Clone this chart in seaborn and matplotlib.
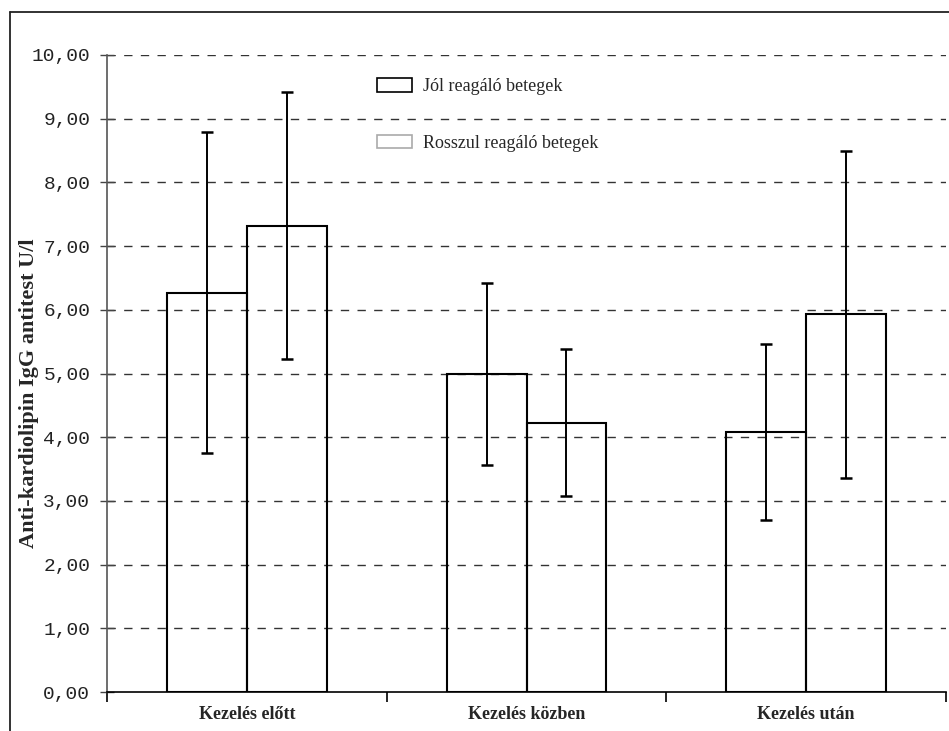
import matplotlib
matplotlib.use("Agg")
import matplotlib.pyplot as plt
from matplotlib.lines import Line2D
from matplotlib.patches import Rectangle
from matplotlib.ticker import FixedLocator, FuncFormatter
import seaborn as sns
import pandas as pd
import numpy as np

# Group means and standard deviations (U/l)
categories = ["Kezelés előtt", "Kezelés közben", "Kezelés után"]
groups = ["Jól reagáló betegek", "Rosszul reagáló betegek"]
good_mean = [6.27, 4.99, 4.08]
good_err = [2.52, 1.43, 1.38]
poor_mean = [7.32, 4.23, 5.93]
poor_err = [2.10, 1.15, 2.57]
y_ticks = [0, 1, 2, 3, 4, 5, 6, 7, 8, 9, 10]
y_label = "Anti-kardiolipin IgG antitest U/l"

df = pd.DataFrame({
    "kat": categories * 2,
    "csoport": [groups[0]] * 3 + [groups[1]] * 3,
    "ertek": good_mean + poor_mean,
})
errs = {groups[0]: good_err, groups[1]: poor_err}

sns.set_style("white")
plt.rcParams["font.family"] = ["DejaVu Sans"]

W, H, DPI = 949, 731, 100
fig = plt.figure(figsize=(W / DPI, H / DPI), dpi=DPI)
ax = fig.add_axes([107 / W, 1 - 692 / H, (946 - 107) / W, (692 - 55) / H])

sns.barplot(data=df, x="kat", y="ertek", hue="csoport", order=categories,
            hue_order=groups, palette=["black", "black"], fill=False,
            width=0.572, linewidth=1.5, errorbar=None, legend=False, ax=ax)

# error bars at the bar centres
for cont, g in zip(ax.containers, groups):
    for bar, e in zip(cont, errs[g]):
        xc = bar.get_x() + bar.get_width() / 2
        ax.errorbar(xc, bar.get_height(), yerr=e, fmt="none", ecolor="black",
                    elinewidth=1.4, capsize=4, capthick=1.8, zorder=4)

ax.set_xlim(-0.5, 2.5)
ax.set_ylim(0, 10)
ax.set_xlabel("")
ax.set_ylabel("")

for s in ["top", "right"]:
    ax.spines[s].set_visible(False)
for s in ["left", "bottom"]:
    ax.spines[s].set_color("black")
    ax.spines[s].set_linewidth(1.2)
ax.spines["left"].set_color("#555555")

# horizontal dashed grid
for v in y_ticks[1:]:
    ax.axhline(v, color="#333333", lw=1.0, ls=(0, (6, 6)), zorder=0.5)

ax.yaxis.set_major_locator(FixedLocator(y_ticks))
ax.yaxis.set_major_formatter(FuncFormatter(lambda v, p: f"{v:.2f}".replace(".", ",")))
ax.tick_params(axis="y", which="major", direction="inout", length=10, width=1.0,
               color="#444444", pad=7, labelsize=14, left=True)
for lab in ax.get_yticklabels():
    lab.set_family("Liberation Mono")
    lab.set_color("#222222")

ax.xaxis.set_major_locator(FixedLocator([-0.5, 0.5, 1.5, 2.5]))
ax.xaxis.set_minor_locator(FixedLocator([0, 1, 2]))
ax.set_xticklabels([], minor=False)
ax.set_xticklabels(categories, minor=True)
ax.tick_params(axis="x", which="major", direction="out", length=7, width=1.2,
               color="black", bottom=True)
ax.tick_params(axis="x", which="minor", length=0, pad=10, labelsize=13)
for lab in ax.get_xticklabels(minor=True):
    lab.set_family("Liberation Serif")
    lab.set_weight("bold")

fig.text(29 / W, 1 - 393 / H, y_label, rotation=90, ha="center", va="center",
         family="Liberation Serif", weight="bold", fontsize=16)

# legend
handles = [Rectangle((0, 0), 1, 1, facecolor="white", edgecolor="black", lw=1.2),
           Rectangle((0, 0), 1, 1, facecolor="white", edgecolor="#aaaaaa", lw=1.2)]
leg = fig.legend(handles, groups, loc="upper left",
                 bbox_to_anchor=(377 / W, 1 - 78 / H), frameon=False,
                 prop={"family": "Liberation Serif", "size": 13},
                 handlelength=1.94, handleheight=0.78, handletextpad=0.61,
                 labelspacing=2.2, borderpad=0, borderaxespad=0)

# frame lines along the top and left edges of the figure
fig.add_artist(Line2D([10 / W, 1], [1 - 12 / H, 1 - 12 / H], color="#222222", lw=1.3))
fig.add_artist(Line2D([10 / W, 10 / W], [0, 1 - 12 / H], color="#222222", lw=1.3))

fig.savefig("out.png", dpi=DPI, facecolor="white")
